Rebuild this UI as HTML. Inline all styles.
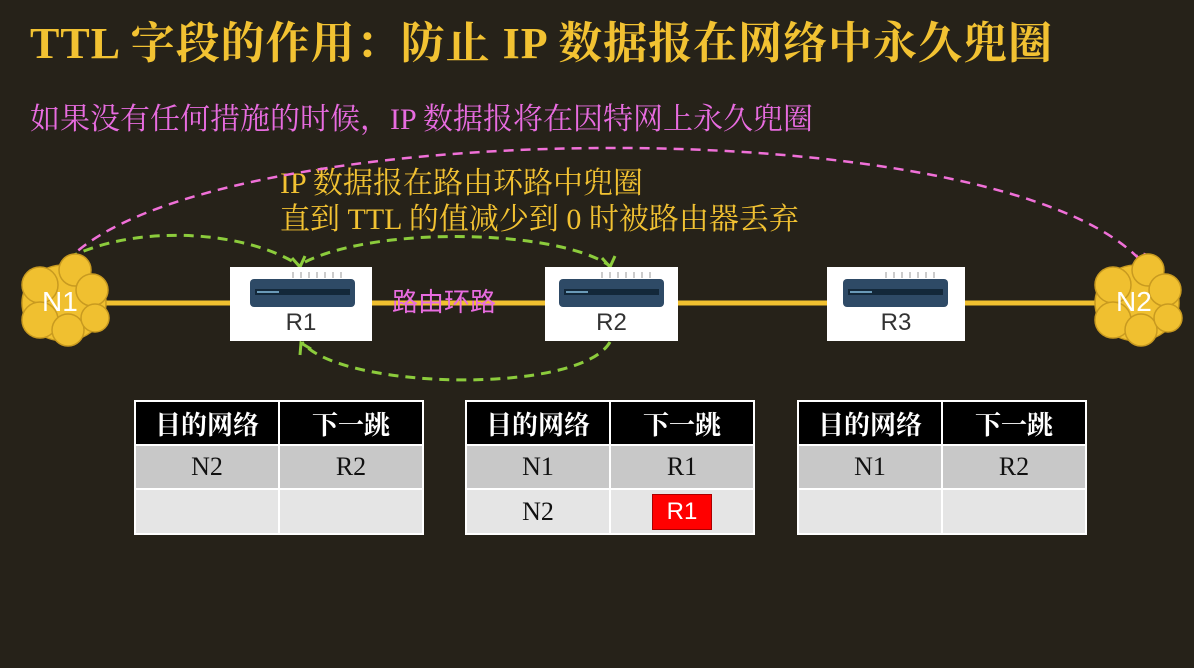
<!DOCTYPE html>
<html><head><meta charset="utf-8"><style>
body{margin:0;width:1194px;height:668px;background:#262219;position:relative;overflow:hidden;font-family:"Liberation Sans","Noto Sans CJK SC",sans-serif}
.t{position:absolute;white-space:nowrap}
.box{position:absolute;background:#fff;top:267px;height:74px}
.box .lbl{position:absolute;left:0;right:0;top:42px;text-align:center;font-size:24px;color:#333}
table{position:absolute;top:400px;border-collapse:collapse;background:#fff;border:2px solid #fff}
td{width:142px;text-align:center;font-family:"Liberation Serif","Noto Serif CJK SC",serif;font-size:26px;border:2px solid #fff;padding:0}
tr.h td{background:#000;color:#fff;font-weight:bold;height:42px;font-family:"Noto Serif CJK SC",serif}
tr.a td{background:#c8c8c8;height:42px;color:#111}
tr.b td{background:#e5e5e5;height:43px;color:#111}
</style></head><body>
<div class="t" style="left:30px;top:7px;font-size:44px;letter-spacing:1px;font-weight:bold;color:#f2c232;font-family:'Liberation Serif','Noto Serif CJK SC',serif">TTL 字段的作用：防止 IP 数据报在网络中永久兜圈</div>
<div class="t" style="left:30px;top:94px;font-size:30px;color:#e86ce0;font-family:'Liberation Serif','Noto Serif CJK SC',serif">如果没有任何措施的时候，IP 数据报将在因特网上永久兜圈</div>
<div class="t" style="left:280px;top:166px;font-size:30px;color:#f2c232;line-height:36px;font-family:'Liberation Serif','Noto Serif CJK SC',serif">IP 数据报在路由环路中兜圈<br>直到 TTL 的值减少到 0 时被路由器丢弃</div>
<svg width="1194" height="668" style="position:absolute;left:0;top:0">
<line x1="100" y1="303" x2="1100" y2="303" stroke="#f0c030" stroke-width="5"/>
<path d="M66 262 C200 115 1000 105 1142 262" fill="none" stroke="#f070d8" stroke-width="2.5" stroke-dasharray="10 7"/>
<path d="M1136 255 l6 9 l3 -11" fill="none" stroke="#f070d8" stroke-width="2.5"/>
<path d="M68 258 C140 222 250 232 300 266" fill="none" stroke="#8ccc3c" stroke-width="3" stroke-dasharray="10 7"/>
<path d="M292 258 l8 9 l5 -11" fill="none" stroke="#8ccc3c" stroke-width="3"/>
<path d="M305 262 C380 225 560 230 610 266" fill="none" stroke="#8ccc3c" stroke-width="3" stroke-dasharray="10 7"/>
<path d="M602 258 l8 9 l5 -11" fill="none" stroke="#8ccc3c" stroke-width="3"/>
<path d="M610 342 C580 395 340 390 302 342" fill="none" stroke="#8ccc3c" stroke-width="3" stroke-dasharray="10 7"/>
<path d="M300 355 l1 -12 l10 6" fill="none" stroke="#8ccc3c" stroke-width="3"/>
<g fill="#f0c030" stroke="#c89a20" stroke-width="1.5">
<ellipse cx="64" cy="303" rx="42" ry="38"/><circle cx="40" cy="285" r="18"/><circle cx="75" cy="270" r="16"/><circle cx="92" cy="290" r="16"/><circle cx="40" cy="320" r="18"/><circle cx="68" cy="330" r="16"/><circle cx="95" cy="318" r="14"/>
<ellipse cx="1137" cy="303" rx="42" ry="38"/><circle cx="1113" cy="285" r="18"/><circle cx="1148" cy="270" r="16"/><circle cx="1165" cy="290" r="16"/><circle cx="1113" cy="320" r="18"/><circle cx="1141" cy="330" r="16"/><circle cx="1168" cy="318" r="14"/>
</g>
</svg>
<div class="t" style="left:42px;top:286px;font-size:28px;color:#fff">N1</div>
<div class="t" style="left:1116px;top:286px;font-size:28px;color:#fff">N2</div>
<div class="t" style="left:392px;top:282px;font-size:26px;color:#e86ce0">路由环路</div>
<div class="box" style="left:230px;width:142px"><svg width="142" height="42"><rect x="20" y="12" width="105" height="28" rx="4" fill="#2e4a66"/><rect x="25" y="22" width="95" height="6" fill="#13283a"/><rect x="27" y="24" width="22" height="2" fill="#6a9ab8"/><g fill="#ccc"><rect x="62" y="5" width="2" height="6"/><rect x="70" y="5" width="2" height="6"/><rect x="78" y="5" width="2" height="6"/><rect x="86" y="5" width="2" height="6"/><rect x="94" y="5" width="2" height="6"/><rect x="102" y="5" width="2" height="6"/><rect x="110" y="5" width="2" height="6"/></g></svg><div class="lbl">R1</div></div>
<div class="box" style="left:545px;width:133px"><svg width="133" height="42"><rect x="14" y="12" width="105" height="28" rx="4" fill="#2e4a66"/><rect x="19" y="22" width="95" height="6" fill="#13283a"/><rect x="21" y="24" width="22" height="2" fill="#6a9ab8"/><g fill="#ccc"><rect x="56" y="5" width="2" height="6"/><rect x="64" y="5" width="2" height="6"/><rect x="72" y="5" width="2" height="6"/><rect x="80" y="5" width="2" height="6"/><rect x="88" y="5" width="2" height="6"/><rect x="96" y="5" width="2" height="6"/><rect x="104" y="5" width="2" height="6"/></g></svg><div class="lbl">R2</div></div>
<div class="box" style="left:827px;width:138px"><svg width="138" height="42"><rect x="16" y="12" width="105" height="28" rx="4" fill="#2e4a66"/><rect x="21" y="22" width="95" height="6" fill="#13283a"/><rect x="23" y="24" width="22" height="2" fill="#6a9ab8"/><g fill="#ccc"><rect x="58" y="5" width="2" height="6"/><rect x="66" y="5" width="2" height="6"/><rect x="74" y="5" width="2" height="6"/><rect x="82" y="5" width="2" height="6"/><rect x="90" y="5" width="2" height="6"/><rect x="98" y="5" width="2" height="6"/><rect x="106" y="5" width="2" height="6"/></g></svg><div class="lbl">R3</div></div>
<table style="left:134px"><tr class="h"><td>目的网络</td><td>下一跳</td></tr><tr class="a"><td>N2</td><td>R2</td></tr><tr class="b"><td></td><td></td></tr></table>
<table style="left:465px"><tr class="h"><td>目的网络</td><td>下一跳</td></tr><tr class="a"><td>N1</td><td>R1</td></tr><tr class="b"><td>N2</td><td><span style="display:inline-block;background:#f00;color:#fff;font-family:'Liberation Sans',sans-serif;font-size:24px;width:58px;line-height:34px;border:1px solid #a00">R1</span></td></tr></table>
<table style="left:797px"><tr class="h"><td>目的网络</td><td>下一跳</td></tr><tr class="a"><td>N1</td><td>R2</td></tr><tr class="b"><td></td><td></td></tr></table>
</body></html>
